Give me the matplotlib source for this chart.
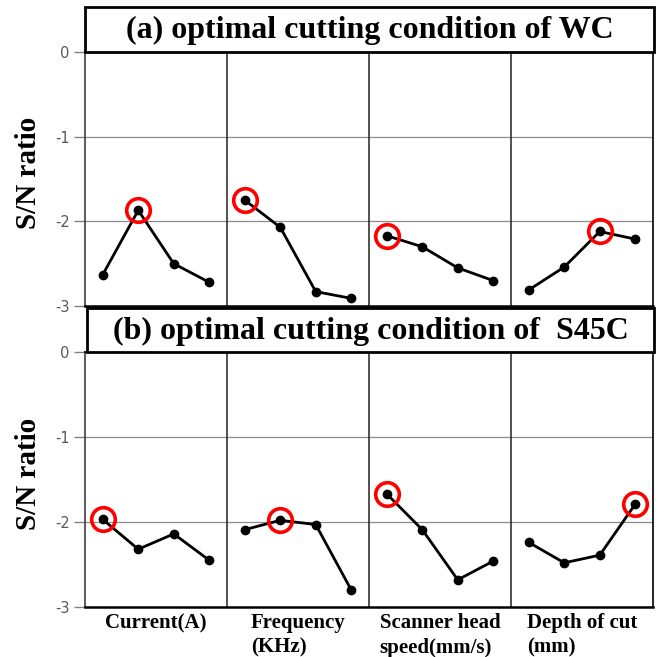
import matplotlib.pyplot as plt
from matplotlib.patches import Rectangle
import numpy as np

# S/N ratio, 4 levels per factor
factors = ['Current(A)', 'Frequency\n(KHz)', 'Scanner head\nspeed(mm/s)', 'Depth of cut\n(mm)']
wc_current = [-2.63, -1.87, -2.50, -2.72]
wc_frequency = [-1.75, -2.07, -2.83, -2.91]
wc_scanner = [-2.17, -2.30, -2.55, -2.70]
wc_depth = [-2.81, -2.54, -2.12, -2.21]
s45c_current = [-1.97, -2.32, -2.14, -2.45]
s45c_frequency = [-2.09, -1.98, -2.03, -2.80]
s45c_scanner = [-1.67, -2.09, -2.68, -2.46]
s45c_depth = [-2.24, -2.48, -2.39, -1.79]
y_ticks = [0, -1, -2, -3]

serif = 'Liberation Serif'
W, H = 662, 657


def fx(px):
    return px / W


def fy(py):
    return 1 - py / H


fig = plt.figure(figsize=(6.62, 6.57), dpi=100)


def draw_panel(top_px, bottom_px, groups, title, box_top_px, box_left_px, show_xlabels):
    ax = fig.add_axes([fx(85), fy(bottom_px), fx(653) - fx(85), fy(top_px) - fy(bottom_px)])
    ax.set_xlim(-0.5, 15.5)
    ax.set_ylim(-3, 0)
    ax.set_yticks(y_ticks)
    ax.set_yticklabels([str(t) for t in y_ticks], color='#595959', fontsize=10.5,
                       family='DejaVu Sans')
    ax.tick_params(axis='y', length=8, width=1, color='#808080', pad=3)
    ax.set_xticks([])
    for v in [-1, -2]:
        ax.axhline(v, color='#8c8c8c', lw=0.9, zorder=1)
    for x in [3.5, 7.5, 11.5]:
        ax.axvline(x, color='#222222', lw=1.1, zorder=1)
    for s in ax.spines.values():
        s.set_color('black')
        s.set_linewidth(1.2)
    ax.spines['bottom'].set_linewidth(1.8)
    ax.spines['left'].set_color('#404040')

    for g, vals in enumerate(groups):
        xs = np.arange(4) + g * 4
        ax.plot(xs, vals, color='black', lw=2, marker='o', ms=6, zorder=3)
        best = int(np.argmax(vals))
        ax.plot(xs[best], vals[best], 'o', ms=17, mfc='none', mec='#ff0000', mew=2.6, zorder=4)

    # title box
    fig.patches.append(Rectangle((fx(box_left_px), fy(top_px)), fx(654) - fx(box_left_px),
                                 fy(box_top_px) - fy(top_px), transform=fig.transFigure,
                                 facecolor='white', edgecolor='black', lw=2))
    fig.text(fx((box_left_px + 654) / 2), fy((box_top_px + top_px) / 2 + 1), title,
             ha='center', va='center', family=serif, weight='bold', fontsize=23)
    fig.text(fx(29), fy((top_px + bottom_px) / 2 - 6), 'S/N ratio', rotation=90,
             ha='center', va='center', family=serif, weight='bold', fontsize=21)

    if show_xlabels:
        for g, name in enumerate(factors):
            cx = 85 + (g + 0.5) * 142
            fig.text(fx(cx), fy(613), name, ha='center', va='top', multialignment='left',
                     family=serif, weight='bold', fontsize=15, linespacing=1.3)
    return ax


draw_panel(52, 306, [wc_current, wc_frequency, wc_scanner, wc_depth],
           '(a) optimal cutting condition of WC', 7, 85, False)
draw_panel(352, 607, [s45c_current, s45c_frequency, s45c_scanner, s45c_depth],
           '(b) optimal cutting condition of  S45C', 308, 87, True)

fig.savefig('out.png', dpi=100)
